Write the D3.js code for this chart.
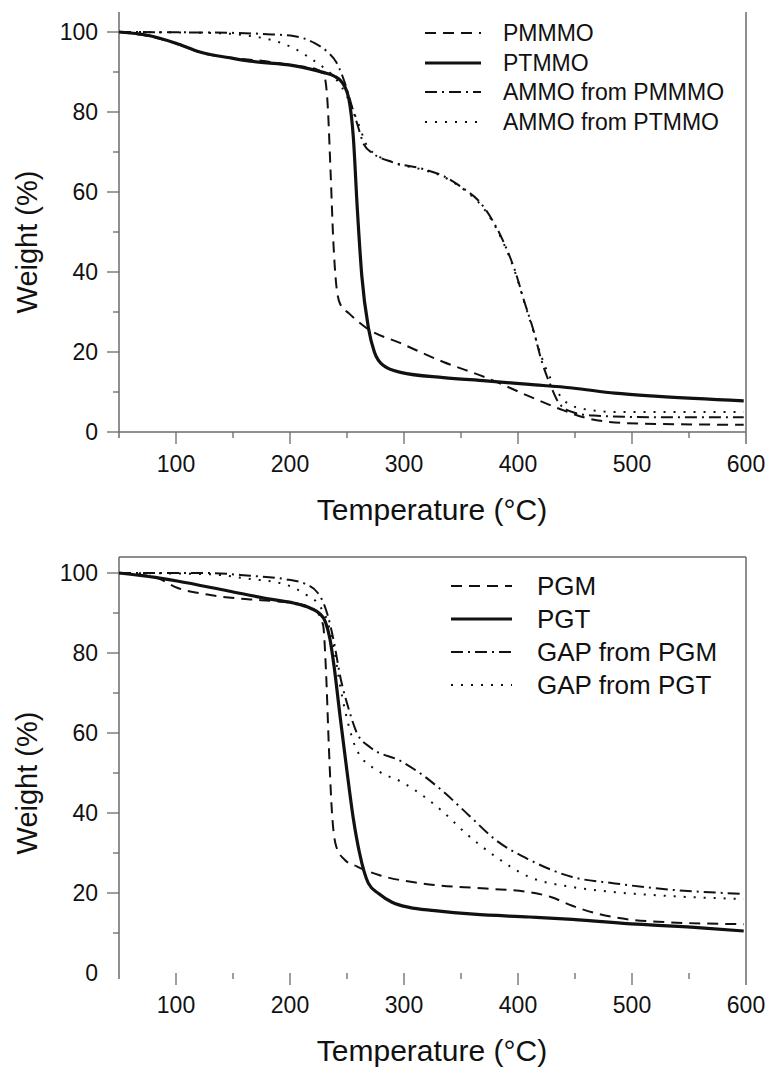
<!DOCTYPE html>
<html>
<head>
<meta charset="utf-8">
<script src="https://cdn.jsdelivr.net/npm/d3@7"></script>
<style>
  body { margin: 0; background: #fff; }
  svg text { font-family: "Liberation Sans", Arial, sans-serif; fill: #111; }
</style>
</head>
<body>
<div id="chart"></div>
<script>
// ---- data: [temperature °C, weight %] ----
const pmmmo = [[50,100],[75,99],[101,97],[125,94.6],[150,93.5],[175,92.8],[203,91.6],[222,90.8],[229,89.5],[231,88],[233,82],[235.6,65],[238,47.7],[240.5,37],[244,32],[252,29.6],[267,26],[297,22.2],[334.6,17.5],[372,13.6],[410,8.9],[440,5.4],[462.6,3.3],[485,2.4],[523,2.0],[598,1.8]];
const ptmmo = [[50,100],[75,99.2],[100,97.2],[121,95],[150,93.4],[165,92.7],[203,91.6],[229,89.9],[238.6,89],[246,87.3],[251.8,83],[255.6,73.5],[259,56],[263,39],[268.8,26],[274,20],[282,16.6],[297,14.9],[334.6,13.6],[372,12.8],[410,11.9],[447.6,11],[485,9.7],[523,8.9],[598,7.8]];
const ammoFromPmmmo = [[50,100],[146,99.8],[184,99.4],[203,99],[221.7,97.2],[233,95],[240.5,92.5],[246,89],[250,85.6],[253.7,82],[259,77],[265,71.8],[272.5,69.7],[289.5,67.5],[316,65.8],[334.6,64],[353.5,60.6],[364.8,58],[376,53.7],[387,47.7],[396.8,40.8],[406,32.2],[413.7,25.3],[421,17.5],[428.8,11.5],[436,7.2],[447.6,5],[466.4,4.1],[523,3.7],[598,3.7]];
const ammoFromPtmmo = [[50,100],[127.6,99.8],[165,99],[184,98],[203,96],[218,93.4],[229,91.2],[240.5,88.2],[250,83.9],[259,77.8],[268.8,71],[289.5,67.5],[316,65.6],[334.6,63.8],[353.5,60.4],[364.8,57.6],[376,53.4],[387,47.4],[396.8,40.5],[406,32],[413.7,25],[421,18.5],[428.8,13.2],[440,8],[455,5.9],[485,5],[598,5]];

const pgm = [[50,100],[82,98.9],[101,96.3],[127.6,94.6],[165,93.4],[184,93],[203,92.5],[221.7,90.8],[229,87],[231.8,74],[234,57.2],[236.8,40.2],[240.5,31.7],[248,28.3],[259,26.6],[278,24.5],[315.8,22.4],[372,21.1],[410,20.2],[428.8,19],[447.6,16.8],[466,15.1],[485,13.9],[523,12.8],[598,12.2]];
const pgt = [[50,100],[82,98.9],[101,98],[146,95.5],[184,93.4],[203,92.5],[218,91.2],[225.5,90],[231,87.8],[235,83.6],[238.6,76.8],[244,64],[250,50.4],[255.6,38.5],[261,30],[268.8,22.4],[278,19.8],[289.5,17.7],[304.5,16.4],[327,15.6],[361,14.7],[410,14],[447.6,13.4],[504,12.2],[560.5,11.3],[598,10.5]];
const gapFromPgm = [[50,100],[127.6,100],[165,99.3],[195,98.5],[214,97.2],[225.5,94.6],[233,89.5],[238.6,82.7],[244,74.2],[251.8,65.7],[259,59.8],[270.6,56.4],[297,53],[315.8,49.6],[334.6,45.3],[357,39.4],[379.8,33.4],[410,28.3],[447.6,24],[485,22.4],[523,21.1],[598,19.8]];
const gapFromPgt = [[50,100],[127.6,99.7],[165,98.5],[195,97.2],[214,94.6],[225.5,92],[233,87.8],[238.6,81],[244,71.7],[251.8,61.5],[259,55.5],[278,50.4],[297,47.9],[315.8,44.5],[334.6,40.2],[353.5,35.1],[379.8,29.2],[410,24],[447.6,21.5],[485,20.2],[523,19.4],[598,18.5]];

const topNames = ["PMMMO", "PTMMO", "AMMO from PMMMO", "AMMO from PTMMO"];
const bottomNames = ["PGM", "PGT", "GAP from PGM", "GAP from PGT"];
const xTicks = [100, 200, 300, 400, 500, 600];
const yTicks = [0, 20, 40, 60, 80, 100];

// line styles: dashed, solid, dash-dot, dotted
const styles = [
  {dash: "11,7", width: 2},
  {dash: null, width: 3.2},
  {dash: "12,5,2,5", width: 2},
  {dash: "2,8", width: 2}
];

const W = 769, H = 1071;
const svg = d3.select("#chart").append("svg")
    .attr("width", W)
    .attr("height", H);

const axisColor = "#6a6a6a";

function drawPanel(p) {
  const x = d3.scaleLinear().domain([50, 600]).range([119, 746]);
  const y = d3.scaleLinear().domain([0, 100]).range([p.y0, p.y0 - 400]);
  const g = svg.append("g");

  // frame lines
  g.append("line").attr("x1", 119).attr("x2", 119).attr("y1", p.top).attr("y2", p.y0 + 6)
    .attr("stroke", axisColor).attr("stroke-width", 1.5);
  g.append("line").attr("x1", 746).attr("x2", 746).attr("y1", p.top).attr("y2", p.y0 + 12)
    .attr("stroke", axisColor).attr("stroke-width", 1.5);
  if (p.topLine) {
    g.append("line").attr("x1", 119).attr("x2", 746).attr("y1", p.top).attr("y2", p.top)
      .attr("stroke", axisColor).attr("stroke-width", 1.5);
  }
  if (p.bottomLine) {
    g.append("line").attr("x1", 119).attr("x2", 746).attr("y1", p.y0).attr("y2", p.y0)
      .attr("stroke", axisColor).attr("stroke-width", 1.5);
  }

  // x ticks (major + minor)
  const xMinor = d3.range(150, 600, 100);
  g.selectAll(".xmaj").data(xTicks.filter(d => d < 600)).join("line")
    .attr("x1", d => x(d)).attr("x2", d => x(d))
    .attr("y1", p.y0).attr("y2", p.y0 + 12)
    .attr("stroke", axisColor).attr("stroke-width", 1.3);
  g.selectAll(".xmin").data(xMinor).join("line")
    .attr("x1", d => x(d)).attr("x2", d => x(d))
    .attr("y1", p.y0).attr("y2", p.y0 + 6)
    .attr("stroke", axisColor).attr("stroke-width", 1.3);
  g.selectAll(".xlab").data(xTicks).join("text")
    .attr("x", d => x(d)).attr("y", p.y0 + 40)
    .attr("text-anchor", "middle").attr("font-size", 23)
    .text(d => d);

  // y ticks
  const yMinor = d3.range(10, 100, 20);
  g.selectAll(".ymaj").data(yTicks.filter(d => p.bottomLine || d > 0)).join("line")
    .attr("x1", 107).attr("x2", 119)
    .attr("y1", d => y(d)).attr("y2", d => y(d))
    .attr("stroke", axisColor).attr("stroke-width", 1.3);
  g.selectAll(".ymin").data(yMinor).join("line")
    .attr("x1", 113).attr("x2", 119)
    .attr("y1", d => y(d)).attr("y2", d => y(d))
    .attr("stroke", axisColor).attr("stroke-width", 1.3);
  g.selectAll(".ylab").data(yTicks).join("text")
    .attr("x", 98).attr("y", d => y(d) + 8)
    .attr("text-anchor", "end").attr("font-size", 23)
    .text(d => d);

  // axis titles
  g.append("text")
    .attr("x", 432).attr("y", p.y0 + 88)
    .attr("text-anchor", "middle").attr("font-size", 30)
    .text("Temperature (°C)");
  g.append("text")
    .attr("transform", `translate(37,${p.y0 - 190}) rotate(-90)`)
    .attr("text-anchor", "middle").attr("font-size", 29)
    .text("Weight (%)");

  // curves
  const line = d3.line()
    .x(d => x(d[0]))
    .y(d => y(d[1]))
    .curve(d3.curveMonotoneX);
  p.series.forEach((s, i) => {
    g.append("path")
      .datum(s)
      .attr("d", line)
      .attr("fill", "none")
      .attr("stroke", "#111")
      .attr("stroke-width", styles[i].width)
      .attr("stroke-dasharray", styles[i].dash)
      .attr("stroke-linejoin", "round");
  });

  // legend
  p.names.forEach((name, i) => {
    const cy = p.leg.y[i];
    g.append("line")
      .attr("x1", p.leg.x1).attr("x2", p.leg.x2)
      .attr("y1", cy).attr("y2", cy)
      .attr("stroke", "#111")
      .attr("stroke-width", styles[i].width)
      .attr("stroke-dasharray", styles[i].dash);
    g.append("text")
      .attr("x", p.leg.tx).attr("y", cy + p.leg.fs * 0.36)
      .attr("font-size", p.leg.fs)
      .text(name);
  });
}

drawPanel({
  y0: 432, top: 12, topLine: false, bottomLine: true,
  series: [pmmmo, ptmmo, ammoFromPmmmo, ammoFromPtmmo],
  names: topNames,
  leg: {x1: 425, x2: 481, tx: 503, y: [33, 63, 92, 122], fs: 23}
});

drawPanel({
  y0: 973, top: 557, topLine: true, bottomLine: false,
  series: [pgm, pgt, gapFromPgm, gapFromPgt],
  names: bottomNames,
  leg: {x1: 451, x2: 512, tx: 537, y: [586, 619, 652, 685], fs: 26}
});
</script>
</body>
</html>
